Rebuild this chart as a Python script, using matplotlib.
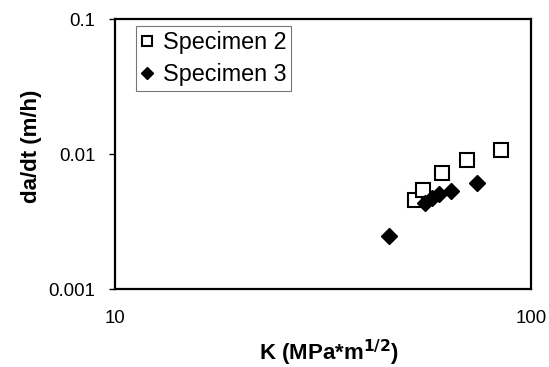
import matplotlib
matplotlib.use("Agg")
import matplotlib.pyplot as plt
from matplotlib.ticker import FixedLocator, FixedFormatter, NullLocator

plt.rcParams['font.family'] = ['Liberation Sans', 'DejaVu Sans']

# Specimen 2 (open squares)
k_spec2 = [52.6, 54.9, 61.1, 70.3, 84.5]
rate_spec2 = [0.00460, 0.00544, 0.00726, 0.00898, 0.0107]

# Specimen 3 (filled diamonds)
k_spec3 = [45.6, 55.6, 57.7, 60.2, 64.1, 74.0]
rate_spec3 = [0.00248, 0.00436, 0.00470, 0.00503, 0.00532, 0.00613]

x_ticks = [10, 100]
x_labels = ["10", "100"]
y_ticks = [0.001, 0.01, 0.1]
y_labels = ["0.001", "0.01", "0.1"]

fig = plt.figure(figsize=(5.49, 3.67), dpi=100)
ax = fig.add_axes([0.2095, 0.2125, 0.7577, 0.7357])

ax.plot(k_spec2, rate_spec2, linestyle="none", marker="s", markersize=9.8,
        markerfacecolor="white", markeredgecolor="black", markeredgewidth=1.5,
        label="Specimen 2")
ax.plot(k_spec3, rate_spec3, linestyle="none", marker="D", markersize=8,
        markerfacecolor="black", markeredgecolor="black",
        label="Specimen 3")

ax.set_xscale("log")
ax.set_yscale("log")
ax.set_xlim(10, 100)
ax.set_ylim(0.001, 0.1)

ax.xaxis.set_major_locator(FixedLocator(x_ticks))
ax.xaxis.set_major_formatter(FixedFormatter(x_labels))
ax.xaxis.set_minor_locator(NullLocator())
ax.yaxis.set_major_locator(FixedLocator(y_ticks))
ax.yaxis.set_major_formatter(FixedFormatter(y_labels))
ax.yaxis.set_minor_locator(NullLocator())

ax.tick_params(axis="x", length=0, pad=15, labelsize=13.4)
ax.tick_params(axis="y", direction="out", length=4, width=1, pad=10, labelsize=13.4)

for spine in ax.spines.values():
    spine.set_linewidth(1.6)

ax.set_xlabel("K (MPa*m$^{\\mathbf{1/2}}$)", fontsize=16, fontweight="bold")
ax.xaxis.set_label_coords(0.513, -0.18)
ax.set_ylabel("da/dt (m/h)", fontsize=16, fontweight="bold")
ax.yaxis.set_label_coords(-0.175, 0.528)

leg = ax.legend(loc="upper left", bbox_to_anchor=(0.05, 0.974), fontsize=16.8,
                frameon=True, fancybox=False, handlelength=0.55, handletextpad=0.4,
                borderpad=0.2, labelspacing=0.42, borderaxespad=0, markerscale=0.78)
leg.get_frame().set_edgecolor("#555555")
leg.get_frame().set_linewidth(0.8)

fig.savefig("out.png", dpi=100)
